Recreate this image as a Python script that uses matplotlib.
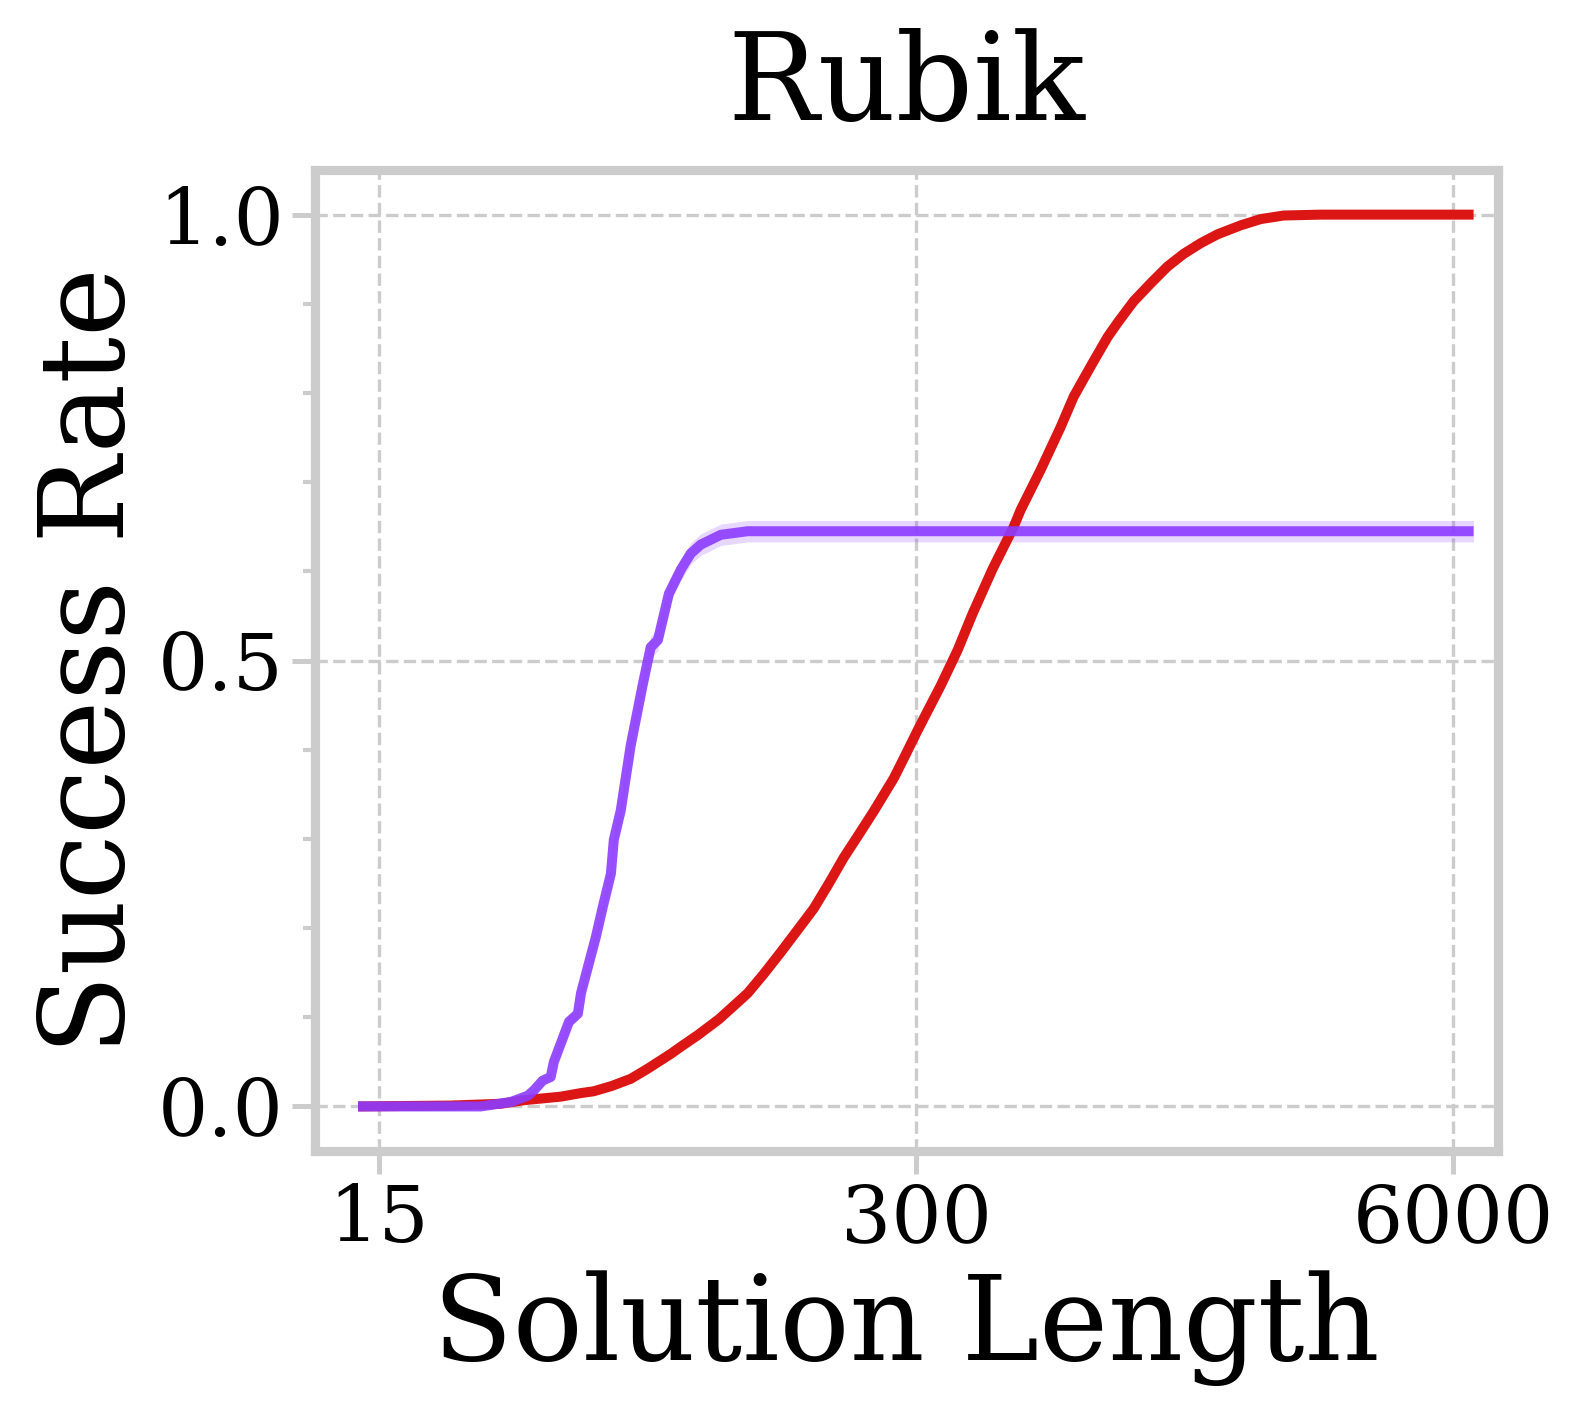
import matplotlib
matplotlib.use("Agg")
import matplotlib.pyplot as plt
from matplotlib.ticker import FixedLocator, NullLocator, MultipleLocator
import numpy as np

# values
red_x = [13.35, 22.4, 29.6, 33.7, 41.4, 46.3, 49.7, 55.0, 61.1, 67.0, 76.4, 80.8, 88.8,
         100.0, 117.3, 128.0, 141.1, 155.0, 169.6, 185.0, 200.4, 218.0, 236.9, 264.9,
         282.0, 302.8, 322.0, 344.3, 378.5, 411.5, 460.0, 517.1, 537.7, 601.2, 672.1,
         722.6, 794.5, 873.5, 923.6, 1009.7, 1110, 1220, 1334, 1467, 1613, 1834, 2050,
         2330, 2864, 6720]
red_y = [0.0, 0.001, 0.003, 0.007, 0.011, 0.015, 0.017, 0.023, 0.031, 0.042, 0.059, 0.067, 0.080,
         0.098, 0.127, 0.148, 0.173, 0.198, 0.222, 0.251, 0.279, 0.305, 0.331, 0.368,
         0.393, 0.422, 0.446, 0.472, 0.512, 0.553, 0.603, 0.650, 0.669, 0.714, 0.762,
         0.796, 0.830, 0.863, 0.879, 0.903, 0.923, 0.942, 0.956, 0.968, 0.978, 0.988, 0.995,
         0.999, 1.0, 1.0]
red_err = [0.0, 0.0, 0.001, 0.002, 0.003, 0.003, 0.004, 0.004, 0.005, 0.005, 0.006, 0.006, 0.006,
           0.007, 0.007, 0.007, 0.008, 0.008, 0.008, 0.009, 0.009, 0.009, 0.009, 0.009,
           0.010, 0.010, 0.010, 0.010, 0.010, 0.010, 0.010, 0.010, 0.010, 0.010, 0.010,
           0.010, 0.010, 0.009, 0.009, 0.008, 0.008, 0.007, 0.006, 0.005, 0.004, 0.003, 0.002,
           0.001, 0.0, 0.0]

purple_x = [13.35, 26.5, 31.3, 34.4, 35.6, 37.4, 39.1, 39.8, 41.4, 43.3, 45.5, 46.3,
            48.1, 50.3, 52.3, 54.7, 55.6, 57.8, 61.1, 65.4, 68.3, 71.1, 75.6, 80.8,
            85.4, 90.3, 101.0, 117.3, 6720]
purple_y = [0.0, 0.0, 0.005, 0.012, 0.018, 0.029, 0.033, 0.050, 0.071, 0.095, 0.104, 0.127,
            0.156, 0.190, 0.224, 0.261, 0.299, 0.332, 0.405, 0.474, 0.515, 0.523, 0.575, 0.602,
            0.620, 0.630, 0.641, 0.645, 0.645]
purple_err = [0.0, 0.0, 0.001, 0.002, 0.003, 0.004, 0.004, 0.005, 0.006, 0.007, 0.007, 0.008,
              0.008, 0.009, 0.009, 0.010, 0.010, 0.010, 0.011, 0.011, 0.012, 0.012, 0.012, 0.012,
              0.012, 0.012, 0.012, 0.012, 0.012]

x_ticks = [15, 300, 6000]
y_ticks = [0.0, 0.5, 1.0]

plt.rcParams['font.family'] = ['DejaVu Serif']

fig = plt.figure(figsize=(1585 / 300, 1417 / 300), dpi=300)
ax = fig.add_axes([0.1987, 0.1877, 0.7464, 0.6923])

rx, ry, re = np.array(red_x), np.array(red_y), np.array(red_err)
px, py, pe = np.array(purple_x), np.array(purple_y), np.array(purple_err)

ax.fill_between(rx, ry - re, ry + re, color='#dc1515', alpha=0.2, linewidth=0)
ax.plot(rx, ry, color='#dc1515', linewidth=2.4, zorder=3,
        solid_joinstyle='round', solid_capstyle='butt')
ax.fill_between(px, py - pe, py + pe, color='#8c3cff', alpha=0.2, linewidth=0)
ax.plot(px, py, color='#8c3cff', alpha=0.9, linewidth=2.4, zorder=4,
        solid_joinstyle='round', solid_capstyle='butt')

ax.set_xscale('log')
ax.set_xlim(10.5, 7700)
ax.set_ylim(-0.05, 1.05)
ax.xaxis.set_major_locator(FixedLocator(x_ticks))
ax.xaxis.set_minor_locator(NullLocator())
ax.set_xticklabels([str(t) for t in x_ticks])
ax.yaxis.set_major_locator(FixedLocator(y_ticks))
ax.yaxis.set_minor_locator(MultipleLocator(0.1))
ax.set_yticklabels(['0.0', '0.5', '1.0'])

ax.tick_params(axis='both', which='major', labelsize=19, length=5.5, width=1.2,
               color='#cccccc')
ax.tick_params(axis='x', which='major', pad=2)
ax.tick_params(axis='y', which='major', pad=2)
ax.tick_params(axis='y', which='minor', length=3, width=1.0, color='#cccccc')

for s in ax.spines.values():
    s.set_color('#cccccc')
    s.set_linewidth(2.2)

ax.grid(True, which='major', linestyle='--', color='#cccccc', linewidth=0.8)
ax.set_axisbelow(True)

ax.set_title('Rubik', fontsize=29, pad=12)
ax.set_xlabel('Solution Length', fontsize=28, labelpad=3)
ax.set_ylabel('Success Rate', fontsize=28, labelpad=2)

fig.savefig('out.png', dpi=300)
